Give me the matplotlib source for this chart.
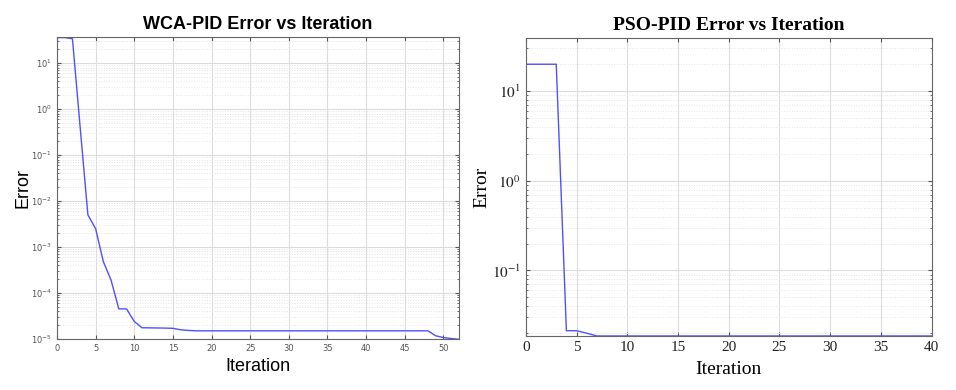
import matplotlib.pyplot as plt
from matplotlib.ticker import LogLocator, NullFormatter

# Datos: WCA-PID (panel izquierdo)
wca_iter = list(range(0, 53))
wca_error = [36, 36, 34, 0.4, 5.0e-3, 2.5e-3, 4.8e-4, 1.9e-4, 4.5e-5, 4.5e-5,
             2.4e-5, 1.75e-5, 1.74e-5, 1.73e-5, 1.72e-5, 1.70e-5, 1.58e-5, 1.53e-5] + \
            [1.5e-5] * 31 + [1.17e-5, 1.07e-5, 1.02e-5, 0.98e-5]

# Datos: PSO-PID (panel derecho)
pso_iter = list(range(0, 41))
pso_error = [20, 20, 20, 20, 0.0213, 0.0213, 0.0200] + [0.0186] * 34

wca_yticks = [1e-5, 1e-4, 1e-3, 1e-2, 1e-1, 1e0, 1e1]
wca_ylabels = [r'$10^{-5}$', r'$10^{-4}$', r'$10^{-3}$', r'$10^{-2}$',
               r'$10^{-1}$', r'$10^{0}$', r'$10^{1}$']
pso_yticks = [1e-1, 1e0, 1e1]
pso_ylabels = [r'$10^{-1}$', r'$10^{0}$', r'$10^{1}$']

line_color = '#5050ff'

fig = plt.figure(figsize=(9.56, 3.9), dpi=100)

# ---- Panel izquierdo: WCA ----
ax1 = fig.add_axes([0.0596, 0.131, 0.4204, 0.774])
ax1.plot(wca_iter, wca_error, color=line_color, linewidth=1.0)
ax1.set_yscale('log')
ax1.set_xlim(0, 52)
ax1.set_ylim(1e-5, 37)
ax1.set_xticks(range(0, 51, 5))
ax1.set_yticks(wca_yticks, labels=wca_ylabels)
ax1.yaxis.set_minor_locator(LogLocator(base=10, subs=range(2, 10), numticks=20))
ax1.yaxis.set_minor_formatter(NullFormatter())
ax1.grid(which='major', color='#dcdcdc', linewidth=0.8)
ax1.grid(which='minor', axis='y', color='#e4e4e4', linestyle=':', linewidth=0.7)
ax1.tick_params(which='both', direction='in', top=True, right=True,
                labelsize=6, labelcolor='#555555', color='#555555', length=3)
ax1.tick_params(which='minor', length=1.5)
for lab in ax1.get_yticklabels():
    lab.set_math_fontfamily('dejavusans')
for sp in ax1.spines.values():
    sp.set_color('#666666')
ax1.set_title('WCA-PID Error vs Iteration', fontsize=13, fontweight='bold',
              family='Liberation Sans', pad=6)
ax1.set_xlabel('Iteration', fontsize=13, family='Liberation Sans', labelpad=4)
ax1.set_ylabel('Error', fontsize=13, family='Liberation Sans', labelpad=0)

# ---- Panel derecho: PSO ----
ax2 = fig.add_axes([0.550, 0.1385, 0.4246, 0.7635])
ax2.plot(pso_iter, pso_error, color=line_color, linewidth=1.0)
ax2.set_yscale('log')
ax2.set_xlim(0, 40)
ax2.set_ylim(0.0186, 39)
ax2.set_xticks(range(0, 41, 5))
ax2.set_yticks(pso_yticks, labels=pso_ylabels)
ax2.yaxis.set_minor_locator(LogLocator(base=10, subs=range(2, 10), numticks=20))
ax2.yaxis.set_minor_formatter(NullFormatter())
ax2.grid(which='major', color='#dcdcdc', linewidth=0.8)
ax2.grid(which='minor', axis='y', color='#e4e4e4', linestyle=':', linewidth=0.7)
ax2.tick_params(which='both', direction='in', top=True, right=True,
                labelsize=11, labelcolor='#222222', color='#555555', length=3)
ax2.tick_params(which='minor', length=1.5)
for lab in ax2.get_xticklabels() + ax2.get_yticklabels():
    lab.set_family('Liberation Serif')
    lab.set_math_fontfamily('stix')
for sp in ax2.spines.values():
    sp.set_color('#666666')
ax2.set_title('PSO-PID Error vs Iteration', fontsize=14, fontweight='bold',
              family='Liberation Serif', pad=6)
ax2.set_xlabel('Iteration', fontsize=14, family='Liberation Serif', labelpad=5)
ax2.set_ylabel('Error', fontsize=14, family='Liberation Serif', labelpad=1)

plt.savefig('out.png', dpi=100)
